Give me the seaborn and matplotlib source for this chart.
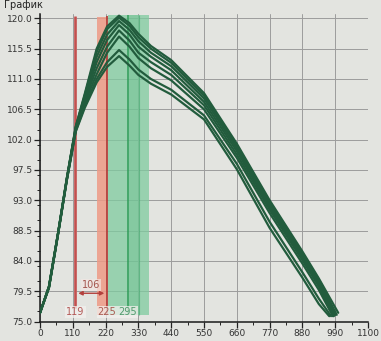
import matplotlib
matplotlib.use("Agg")
import matplotlib.pyplot as plt
import pandas as pd
import seaborn as sns
from matplotlib.ticker import FormatStrFormatter, MultipleLocator

# x positions shared by all runs
x_points = [0, 30, 60, 90, 120, 150, 190, 225, 265, 300, 330, 372,
            440, 550, 660, 770, 880, 935]

run_1 = [76.3, 80.2, 88.0, 96.3, 104.0, 108.8, 115.5, 118.8, 120.4, 119.3,
         117.7, 115.9, 113.8, 108.9, 101.4, 93.0, 85.4, 81.4]
run_2 = [76.3, 80.2, 88.0, 96.3, 103.9, 108.6, 115.0, 118.4, 120.1, 118.9,
         117.2, 115.5, 113.4, 108.5, 101.1, 92.7, 85.1, 81.2]
run_3 = [76.3, 80.2, 88.0, 96.2, 103.8, 108.4, 114.3, 117.6, 119.6, 118.3,
         116.6, 114.9, 112.9, 108.1, 100.7, 92.4, 84.8, 80.9]
run_4 = [76.3, 80.1, 87.9, 96.2, 103.7, 108.1, 113.5, 116.8, 119.0, 117.6,
         115.8, 114.3, 112.3, 107.6, 100.3, 92.0, 84.5, 80.6]
run_5 = [76.3, 80.1, 87.9, 96.1, 103.6, 107.8, 112.6, 115.8, 118.2, 116.7,
         114.9, 113.5, 111.6, 107.1, 99.8, 91.6, 84.1, 80.2]
run_6 = [76.3, 80.1, 87.9, 96.1, 103.5, 107.5, 111.7, 114.9, 117.3, 115.8,
         114.1, 112.6, 110.8, 106.5, 99.3, 91.1, 83.6, 79.7]
run_7 = [76.3, 80.0, 87.8, 96.0, 103.3, 107.0, 111.0, 113.5, 115.3, 113.9,
         112.4, 111.0, 109.4, 105.6, 98.4, 89.8, 82.3, 78.4]
run_8 = [76.3, 80.0, 87.8, 96.0, 103.2, 106.7, 110.5, 112.8, 114.4, 113.0,
         111.6, 110.3, 108.7, 105.0, 97.6, 88.9, 81.5, 77.6]

# last point of every run
end_x = [1000, 995, 990, 988, 985, 982, 976, 970]
end_y = [76.3, 76.0, 76.0, 75.9, 75.8, 75.8, 75.8, 75.8]

# markers on the chart
marker_a = 119
marker_b = 225
marker_c = 295
marker_gap = 106

y_ticks = [75.0, 79.5, 84.0, 88.5, 93.0, 97.5, 102.0, 106.5, 111.0, 115.5, 120.0]
x_ticks = [0, 110, 220, 330, 440, 550, 660, 770, 880, 990, 1100]

bg = "#e3e4e0"
line_color = "#225c3d"

runs = [run_1, run_2, run_3, run_4, run_5, run_6, run_7, run_8]
rows = []
for i, ys in enumerate(runs):
    for xv, yv in zip(x_points + [end_x[i]], ys + [end_y[i]]):
        rows.append({"run": i, "x": xv, "y": yv})
df = pd.DataFrame(rows)

sns.set_style("ticks")
plt.rcParams["font.family"] = ["DejaVu Sans"]

fig = plt.figure(figsize=(3.81, 3.41), dpi=100, facecolor=bg)
ax = fig.add_axes([0.105, 0.057, 0.861, 0.903])
ax.set_facecolor(bg)

# highlighted regions
ax.axvspan(190, marker_b, ymin=0.02, ymax=0.99, color="#ee9a86", alpha=0.85,
           lw=0, zorder=1)
ax.axvspan(marker_b + 4, 367, ymin=0.02, ymax=0.995, color="#7fcb9f",
           alpha=0.75, lw=0, zorder=1)
ax.axvspan(marker_c + 3, 333, ymin=0.02, ymax=0.995, color="#63bb88",
           alpha=0.35, lw=0, zorder=1)
ax.axvspan(marker_a - 5, marker_a + 5, ymin=0.04, ymax=0.99, color="#e7aaa8",
           alpha=0.7, lw=0, zorder=1)
ax.vlines(marker_a, 77.0, 120.4, color="#c2504f", lw=1.8, zorder=2)
ax.vlines(marker_b, 76.0, 120.4, color="#b3403c", lw=1.3, zorder=2)
ax.vlines(marker_c, 76.0, 120.5, color="#2f9c58", lw=1.1, zorder=2)
ax.vlines(333, 76.0, 120.5, color="#4aaa72", lw=0.8, alpha=0.7, zorder=2)

sns.lineplot(data=df, x="x", y="y", units="run", estimator=None, sort=False,
             color=line_color, lw=1.6, ax=ax, zorder=3, legend=False)

# distance annotation
ax.annotate("", xy=(marker_a, 79.2), xytext=(marker_b, 79.2),
            arrowprops=dict(arrowstyle="<|-|>", color="#b3403c", lw=1.0,
                            mutation_scale=6), zorder=4)
ax.text((marker_a + marker_b) / 2, 80.4, str(marker_gap), color="#a4564e",
        fontsize=7, ha="center", va="center", zorder=5,
        bbox=dict(boxstyle="square,pad=0.1", fc="#f2e6e2", ec="none",
                  alpha=0.7))

for xv, col in [(marker_a, "#b45a58"), (marker_b, "#a85a50"),
                (marker_c, "#4f9a6c")]:
    ax.text(xv, 76.4, str(xv), color=col, fontsize=7, ha="center",
            va="center", zorder=5,
            bbox=dict(boxstyle="square,pad=0.12", fc="#f3f1ee", ec="none",
                      alpha=0.75))

ax.set_xlim(0, 1100)
ax.set_ylim(75, 120.7)
ax.set_xticks(x_ticks)
ax.set_yticks(y_ticks)
ax.xaxis.set_minor_locator(MultipleLocator(55))
ax.yaxis.set_minor_locator(MultipleLocator(2.25))
ax.yaxis.set_major_formatter(FormatStrFormatter("%.1f"))
ax.tick_params(axis="both", which="major", labelsize=6.5, length=4,
               width=0.9, colors="#222222", labelcolor="#333333", pad=1.5)
ax.tick_params(axis="both", which="minor", length=2.5, width=0.7,
               colors="#222222")
ax.grid(True, which="major", color="#9c9c9c", lw=0.7)
ax.set_axisbelow(True)
ax.set_xlabel("")
ax.set_ylabel("")

sns.despine(ax=ax)
for side in ["left", "bottom"]:
    ax.spines[side].set_color("#1a1a1a")
    ax.spines[side].set_linewidth(1.1)

# chart title at the very top edge
fig.text(0.01, 0.999, "График", fontsize=7, color="#222222", va="top",
         ha="left")

fig.savefig("out.png", dpi=100, facecolor=bg)
